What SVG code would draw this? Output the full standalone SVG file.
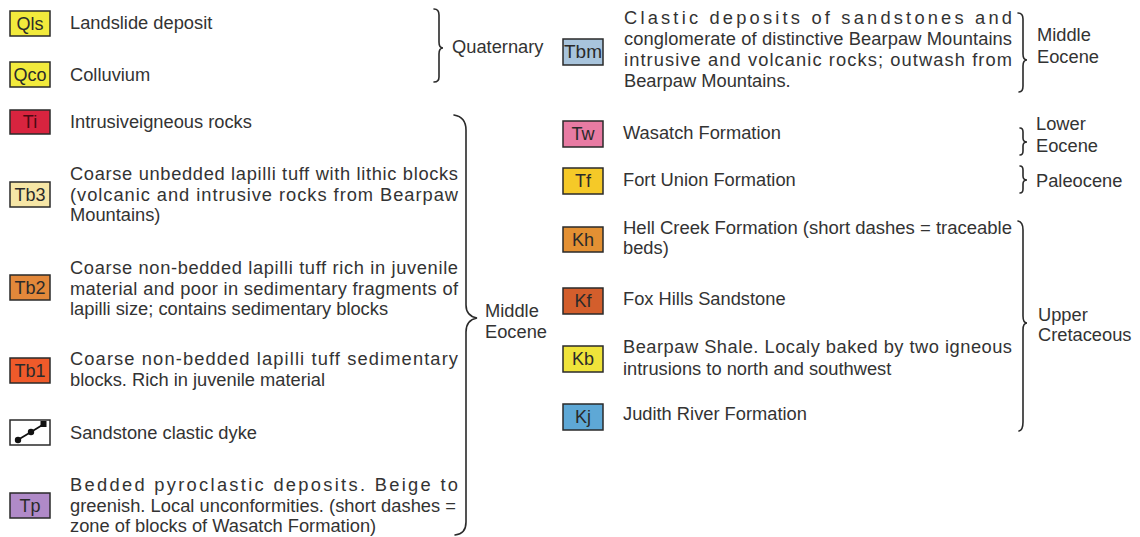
<svg xmlns="http://www.w3.org/2000/svg" width="1140" height="537" viewBox="0 0 1140 537">
<style>
.bg{fill:#ffffff}
.box{stroke:#2a2a2a;stroke-width:1.5}
.lbl{font-family:"Liberation Sans",Arial,sans-serif;font-size:18px;fill:#2a2a2a;text-anchor:middle}
.t{font-family:"Liberation Sans",Arial,sans-serif;font-size:18.3px;fill:#333333}
.br{fill:none;stroke:#2a2a2a;stroke-width:1.6;stroke-linecap:round}
</style>
<rect class="bg" x="0" y="0" width="1140" height="537"/>

<g id="Qls">
<rect class="box" x="10" y="11" width="40" height="25" fill="#f2ea3c"/>
<text class="lbl" x="30" y="30">Qls</text>
<text class="t" x="70" y="29">Landslide deposit</text>
</g>
<g id="Qco">
<rect class="box" x="10" y="62" width="40" height="25" fill="#f2ea3c"/>
<text class="lbl" x="30" y="81">Qco</text>
<text class="t" x="70" y="81">Colluvium</text>
</g>
<g id="Ti">
<rect class="box" x="10" y="110" width="40" height="24" fill="#d8243f"/>
<text class="lbl" x="30" y="128" style="fill:#4a0a12">Ti</text>
<text class="t" x="70" y="128">Intrusiveigneous rocks</text>
</g>
<g id="Tb3">
<rect class="box" x="10" y="182" width="40" height="25" fill="#f6e6a6"/>
<text class="lbl" x="30" y="201">Tb3</text>
<text class="t" x="70" y="180" textLength="388" lengthAdjust="spacing">Coarse unbedded lapilli tuff with lithic blocks</text>
<text class="t" x="70" y="201" textLength="388" lengthAdjust="spacing">(volcanic and intrusive rocks from Bearpaw</text>
<text class="t" x="70" y="221">Mountains)</text>
</g>
<g id="Tb2">
<rect class="box" x="10" y="275" width="40" height="25" fill="#e3883a"/>
<text class="lbl" x="30" y="294">Tb2</text>
<text class="t" x="70" y="274" textLength="388" lengthAdjust="spacing">Coarse non-bedded lapilli tuff rich in juvenile</text>
<text class="t" x="70" y="295" textLength="388" lengthAdjust="spacing">material and poor in sedimentary fragments of</text>
<text class="t" x="70" y="315">lapilli size; contains sedimentary blocks</text>
</g>
<g id="Tb1">
<rect class="box" x="10" y="358" width="40" height="25" fill="#ef5a2a"/>
<text class="lbl" x="30" y="377">Tb1</text>
<text class="t" x="70" y="365" textLength="388" lengthAdjust="spacing">Coarse non-bedded lapilli tuff sedimentary</text>
<text class="t" x="70" y="386">blocks. Rich in juvenile material</text>
</g>
<g id="dyke">
<rect class="box" x="10" y="420" width="40" height="25" fill="#ffffff"/>
<polyline points="16,441 31,432 44,424" fill="none" stroke="#111" stroke-width="1.8"/>
<circle cx="18" cy="440" r="3.2" fill="#111"/>
<circle cx="31" cy="432" r="3.2" fill="#111"/>
<rect x="40.5" y="421" width="6" height="6" fill="#111"/>
<text class="t" x="70" y="439">Sandstone clastic dyke</text>
</g>
<g id="Tp">
<rect class="box" x="10" y="493" width="40" height="25" fill="#b08ac8"/>
<text class="lbl" x="30" y="512">Tp</text>
<text class="t" x="70" y="491" textLength="388" lengthAdjust="spacing">Bedded pyroclastic deposits. Beige to</text>
<text class="t" x="70" y="512" textLength="386" lengthAdjust="spacing">greenish. Local unconformities. (short dashes =</text>
<text class="t" x="70" y="532">zone of blocks of Wasatch Formation)</text>
</g>

<g id="Tbm">
<rect class="box" x="563" y="39" width="40" height="26" fill="#a8c4dc"/>
<text class="lbl" x="583" y="58" textLength="38" lengthAdjust="spacingAndGlyphs">Tbm</text>
<text class="t" x="624" y="24" textLength="388" lengthAdjust="spacing">Clastic deposits of sandstones and</text>
<text class="t" x="624" y="45" textLength="388" lengthAdjust="spacing">conglomerate of distinctive Bearpaw Mountains</text>
<text class="t" x="624" y="66" textLength="388" lengthAdjust="spacing">intrusive and volcanic rocks; outwash from</text>
<text class="t" x="624" y="87">Bearpaw Mountains.</text>
</g>
<g id="Tw">
<rect class="box" x="563" y="121" width="40" height="26" fill="#e87ba3"/>
<text class="lbl" x="583" y="140">Tw</text>
<text class="t" x="623" y="139">Wasatch Formation</text>
</g>
<g id="Tf">
<rect class="box" x="563" y="168" width="40" height="26" fill="#f5c928"/>
<text class="lbl" x="583" y="187">Tf</text>
<text class="t" x="623" y="186">Fort Union Formation</text>
</g>
<g id="Kh">
<rect class="box" x="563" y="227" width="40" height="25" fill="#e39033"/>
<text class="lbl" x="583" y="246">Kh</text>
<text class="t" x="623" y="234" textLength="389" lengthAdjust="spacingAndGlyphs">Hell Creek Formation (short dashes = traceable</text>
<text class="t" x="623" y="254">beds)</text>
</g>
<g id="Kf">
<rect class="box" x="563" y="288" width="40" height="26" fill="#d35e2c"/>
<text class="lbl" x="583" y="307">Kf</text>
<text class="t" x="623" y="305">Fox Hills Sandstone</text>
</g>
<g id="Kb">
<rect class="box" x="563" y="346" width="40" height="26" fill="#efe33a"/>
<text class="lbl" x="583" y="365">Kb</text>
<text class="t" x="623" y="353" textLength="389" lengthAdjust="spacing">Bearpaw Shale. Localy baked by two igneous</text>
<text class="t" x="623" y="375">intrusions to north and southwest</text>
</g>
<g id="Kj">
<rect class="box" x="563" y="404" width="40" height="26" fill="#5ea8d6"/>
<text class="lbl" x="583" y="423">Kj</text>
<text class="t" x="623" y="420">Judith River Formation</text>
</g>

<g id="braces">
<path class="br" d="M434,9 Q439,9 439,15 L439,42 Q439,48 443,48 Q439,48 439,54 L439,77 Q439,82 434,82"/>
<path class="br" d="M454,115 Q466,117 466,130 L466,305 Q466,316 477,318 Q466,320 466,332 L466,522 Q466,534 455,535"/>
<path class="br" d="M1018,13 Q1023,13 1023,19 L1023,54 Q1023,60 1027,60 Q1023,60 1023,66 L1023,86 Q1023,92 1019,92"/>
<path class="br" d="M1020,128 Q1023,128 1023,132 L1023,138 Q1023,142 1027,142 Q1023,142 1023,146 L1023,151 Q1023,155 1020,155"/>
<path class="br" d="M1020,166 Q1023,166 1023,170 L1023,176 Q1023,180 1027,180 Q1023,180 1023,184 L1023,189 Q1023,193 1020,193"/>
<path class="br" d="M1018,221 Q1023,222 1023,230 L1023,316 Q1023,323 1027,323 Q1023,323 1023,330 L1023,422 Q1023,430 1019,431"/>
</g>

<g id="ages">
<text class="t" x="452" y="53">Quaternary</text>
<text class="t" x="485" y="317">Middle</text>
<text class="t" x="485" y="338">Eocene</text>
<text class="t" x="1037" y="41">Middle</text>
<text class="t" x="1037" y="63">Eocene</text>
<text class="t" x="1036" y="130">Lower</text>
<text class="t" x="1036" y="152">Eocene</text>
<text class="t" x="1036" y="187">Paleocene</text>
<text class="t" x="1038" y="321">Upper</text>
<text class="t" x="1038" y="341">Cretaceous</text>
</g>
</svg>
